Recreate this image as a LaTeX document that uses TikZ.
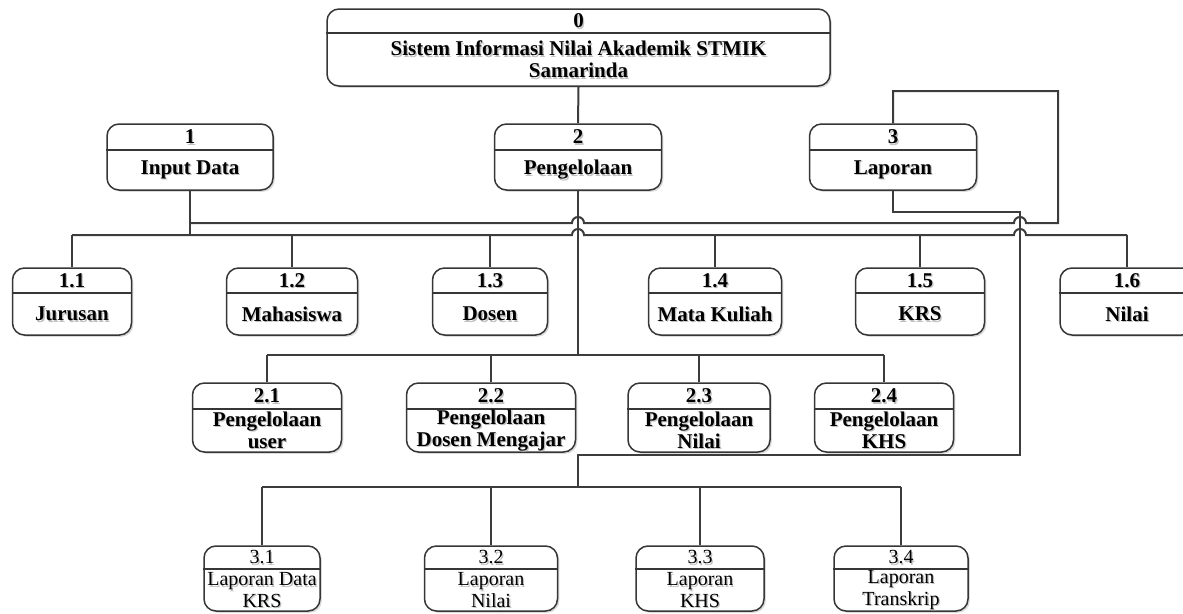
\documentclass[tikz,border=0pt]{standalone}
\usepackage{fontspec}
\setmainfont{Liberation Serif}
\usetikzlibrary{calc,shadows}

\definecolor{wirecol}{HTML}{3C3C3C}
\definecolor{boxcol}{HTML}{363636}
\definecolor{txtshadow}{HTML}{C2C2C2}

\tikzset{
  pbox/.style={draw=boxcol, line width=1.5pt, rounded corners=12pt, fill=white,
    drop shadow={shadow xshift=1.8pt, shadow yshift=-1.8pt, fill=black!14, opacity=1}},
  pbox line/.style={draw=boxcol, line width=1.5pt},
  wire/.style={draw=wirecol, line width=2pt},
  boldtxt/.style={font=\fontsize{21}{22}\selectfont\bfseries, align=center, inner sep=0pt},
  plaintxt/.style={font=\fontsize{20}{21.5}\selectfont, align=center, inner sep=0pt},
}

% #1 name, #2 centre x, #3 top, #4 bottom, #5 width, #6 divider y,
% #7 number, #8 label, #9 text style
\newcommand\procbox[9]{%
  \pgfmathsetmacro\pbcy{(#3+#4)/2}%
  \pgfmathsetmacro\pbh{#4-#3}%
  \pgfmathsetmacro\pbny{(#3+#6)/2}%
  \pgfmathsetmacro\pbly{(#6+#4)/2}%
  \node[pbox, minimum width=#5pt, minimum height=\pbh pt] (#1) at (#2,\pbcy) {};
  \draw[pbox line] (#1.west |- 0,#6) -- (#1.east |- 0,#6);
  \node[#9, text=txtshadow] (#1-ns) at ([shift={(1.3,1.3)}]#2,\pbny) {#7};
  \node[#9] (#1-n) at (#2,\pbny) {#7};
  \node[#9, text=txtshadow] (#1-ls) at ([shift={(1.3,1.3)}]#2,\pbly) {#8};
  \node[#9] (#1-l) at (#2,\pbly) {#8};
}

\begin{document}
\begin{tikzpicture}[x=1pt, y=-1pt]
\clip (0,0) rectangle (1183,613);

% level 0
\procbox{p0}{578.5}{9}{86}{503}{33}{0}{Sistem Informasi Nilai Akademik STMIK\\Samarinda}{boldtxt}

% level 1
\procbox{p1}{190}{124}{190}{166}{150}{1}{Input Data}{boldtxt}
\procbox{p2}{578}{124}{190}{167}{150}{2}{Pengelolaan}{boldtxt}
\procbox{p3}{893}{124}{190}{167}{150}{3}{Laporan}{boldtxt}

% children of 1
\procbox{p11}{72}{268}{335}{119}{293}{1.1}{Jurusan}{boldtxt}
\procbox{p12}{292}{268}{335}{131}{293}{1.2}{Mahasiswa}{boldtxt}
\procbox{p13}{490}{268}{335}{115}{293}{1.3}{Dosen}{boldtxt}
\procbox{p14}{715}{268}{335}{133}{293}{1.4}{Mata Kuliah}{boldtxt}
\procbox{p15}{920}{268}{335}{129}{293}{1.5}{KRS}{boldtxt}
\procbox{p16}{1127}{268}{335}{134}{293}{1.6}{Nilai}{boldtxt}

% children of 2
\procbox{p21}{267}{383}{452}{149}{409}{2.1}{Pengelolaan\\user}{boldtxt}
\procbox{p22}{491}{383}{452}{169}{409}{2.2}{Pengelolaan\\Dosen Mengajar}{boldtxt}
\procbox{p23}{699}{383}{452}{142}{409}{2.3}{Pengelolaan\\Nilai}{boldtxt}
\procbox{p24}{884}{383}{452}{139}{409}{2.4}{Pengelolaan\\KHS}{boldtxt}

% children of 3
\procbox{p31}{262}{546}{611}{116}{569}{3.1}{Laporan Data\\KRS}{plaintxt}
\procbox{p32}{491}{546}{611}{133}{569}{3.2}{Laporan\\Nilai}{plaintxt}
\procbox{p33}{700}{546}{611}{128}{569}{3.3}{Laporan\\KHS}{plaintxt}
\procbox{p34}{901}{546}{611}{134}{569}{3.4}{Laporan\\Transkrip}{plaintxt}

% turning points of the connectors
\coordinate (j1) at (190,235);
\coordinate (lp) at (1058,91);
\coordinate (dn) at (1020,212);
\coordinate (dm) at (1020,455);

% root to Pengelolaan
\draw[wire] (p0.south) -- (p2.north);

% Pengelolaan down to its bus
\draw[wire] (p2.south) -- (p2.south |- 0,355);

% Laporan down to its bus
\draw[wire] (p3.south) -- (p3.south |- dn) -- (dn) -- (dm) -| (p2.south |- 0,487);

% Input Data down to its bus
\draw[wire] (p1.south) -- (j1);

% loop from the top of Laporan back to the Input Data line
\draw[wire] (p3.north) -- (p3.north |- lp) -- (lp) -- (lp |- 0,223)
  -- ($(dn |- 0,223)+(6,0)$) arc (360:180:6)
  -- ($(p2.south |- 0,223)+(6,0)$) arc (360:180:6)
  -- (p1.south |- 0,223);

% bus of level 1.x, hopping over the two verticals
\draw[wire] (p11.north |- j1)
  -- ($(p2.south |- j1)+(-6,0)$) arc (180:360:6)
  -- ($(dn |- j1)+(-6,0)$) arc (180:360:6)
  -- (p16.north |- j1);
\foreach \n in {p11,p12,p13,p14,p15,p16}
  \draw[wire] (\n.north |- j1) -- (\n.north);

% bus of level 2.x
\draw[wire] (p21.north |- 0,355) -- (p24.north |- 0,355);
\foreach \n in {p21,p22,p23,p24}
  \draw[wire] (\n.north |- 0,355) -- (\n.north);

% bus of level 3.x
\draw[wire] (p31.north |- 0,487) -- (p34.north |- 0,487);
\foreach \n in {p31,p32,p33,p34}
  \draw[wire] (\n.north |- 0,487) -- (\n.north);

\end{tikzpicture}
\end{document}
